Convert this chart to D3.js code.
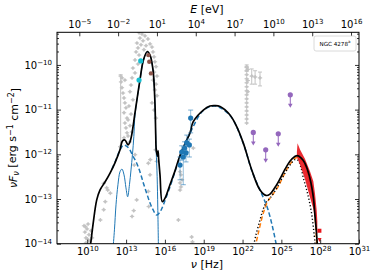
<!DOCTYPE html>
<html>
<head>
<meta charset="utf-8">
<script src="https://cdn.jsdelivr.net/npm/d3@7"></script>
<style>
  body { margin: 0; background: #fff; }
  svg { font-family: "DejaVu Sans", sans-serif; }
</style>
</head>
<body>
<div id="chart"></div>
<script>
// all values are log10(nu / Hz) and log10(nuFnu / erg s^-1 cm^-2)

// model: total emission (black)
let totalModel = [
  [10.20, -14.10], [10.26, -14.0], [10.44, -13.58], [10.73, -13.02], [10.98, -12.80],
  [11.37, -12.62], [11.76, -12.42], [12.14, -12.19], [12.53, -11.90], [12.72, -11.70],
  [12.91, -11.68], [13.15, -11.79], [13.30, -11.72], [13.43, -11.57], [13.69, -11.07],
  [14.07, -10.34], [14.34, -9.89], [14.64, -9.70], [14.85, -9.78], [15.08, -10.11],
  [15.23, -10.85], [15.29, -11.57], [15.33, -11.90], [15.43, -12.04], [15.47, -11.92],
  [15.52, -12.12], [15.62, -12.46], [15.80, -13.06], [16.01, -12.98], [16.39, -12.68],
  [16.78, -12.37], [17.17, -12.02], [17.68, -11.68], [17.94, -11.52], [18.19, -11.27],
  [18.97, -11.01], [19.48, -10.92], [19.87, -10.91], [20.26, -10.93], [21.03, -11.12],
  [21.55, -11.38], [22.06, -11.75], [22.71, -12.35], [23.35, -12.80], [23.81, -12.92],
  [24.12, -12.89], [24.64, -12.68], [25.41, -12.27], [25.82, -12.10], [26.23, -12.03],
  [26.52, -12.08], [26.82, -12.20], [27.10, -12.42], [27.34, -12.72], [27.48, -12.98],
  [27.60, -13.39], [27.71, -13.74], [27.78, -14.05], [27.80, -14.20]
];

// host galaxy (blue solid)
let hostGalaxy = [
  [11.99, -14.10], [12.10, -13.69], [12.22, -13.13], [12.37, -12.68], [12.53, -12.39],
  [12.68, -12.33], [12.84, -12.46], [12.99, -12.75], [13.12, -12.95], [13.26, -12.68],
  [13.38, -12.35], [13.49, -12.01], [13.60, -11.60], [13.69, -11.12], [14.07, -10.36],
  [14.34, -9.90], [14.64, -9.71], [14.85, -9.79], [15.08, -10.12], [15.23, -10.87],
  [15.29, -11.60], [15.33, -11.95], [15.40, -12.50], [15.45, -13.20], [15.50, -14.10]
];

// synchrotron (blue dashed)
let synchrotron = [
  [11.91, -12.33], [12.22, -12.12], [12.53, -11.90], [12.78, -11.80], [13.00, -11.81],
  [13.25, -11.88], [13.53, -12.04], [13.82, -12.20], [14.07, -12.39], [14.33, -12.64],
  [14.59, -12.87], [14.85, -13.09], [15.08, -13.24], [15.36, -13.36], [15.62, -13.29],
  [15.88, -13.13], [16.39, -12.73], [17.17, -12.06], [17.94, -11.53], [18.97, -11.02],
  [19.87, -10.92], [21.03, -11.13], [22.06, -11.76], [22.71, -12.36], [23.35, -12.80],
  [23.74, -13.06], [23.97, -13.24], [24.28, -13.58], [24.58, -13.98], [24.66, -14.10]
];

// inverse Compton (orange dashed)
let inverseCompton = [
  [22.96, -14.10], [23.19, -13.80], [23.60, -13.32], [23.93, -13.06], [24.25, -12.93],
  [24.76, -12.72], [25.13, -12.50], [25.67, -12.22], [26.21, -12.07], [26.68, -12.18],
  [27.06, -12.46], [27.37, -12.80], [27.60, -13.38], [27.75, -14.10]
];

// second component (black dotted)
let dottedModel = [
  [22.81, -14.10], [23.04, -13.80], [23.35, -13.47], [23.58, -13.24], [23.87, -13.06],
  [24.12, -12.98], [24.51, -12.82], [24.89, -12.62], [25.28, -12.42], [25.67, -12.24],
  [26.05, -12.12], [26.28, -12.13], [26.52, -12.30], [26.70, -12.53], [26.96, -12.80],
  [27.14, -13.02], [27.34, -13.33], [27.48, -13.65], [27.60, -13.98], [27.64, -14.10]
];

// TeV butterfly (red)
let bandNu = [26.20, 26.25, 26.45, 26.82, 27.21, 27.47, 27.60, 27.73, 27.78];
let bandLo = [-12.05, -12.10, -12.24, -12.55, -12.96, -13.22, -13.45, -13.72, -13.80];
let bandHi = [-11.95, -11.75, -11.90, -12.10, -12.38, -12.60, -12.88, -13.25, -13.50];
let tevPoints = [[27.94, -13.71]];
let tevLimits = [[27.95, -13.92]];

// archival data (grey)
let archival = [
  [9.75, -13.60], [9.82, -13.74], [9.90, -13.87], [9.98, -13.67], [10.06, -13.56],
  [10.13, -13.80], [10.21, -13.94], [10.29, -13.71], [9.90, -13.98], [10.37, -13.87],
  [9.85, -13.62], [10.02, -13.90],
  [11.01, -13.47], [11.27, -13.24], [11.39, -13.06], [11.27, -12.65], [11.58, -12.80],
  [11.78, -12.87], [11.50, -12.75], [12.55, -11.83], [13.63, -12.24], [13.59, -13.26],
  [13.46, -13.39], [13.82, -13.02], [13.69, -12.01], [14.75, -13.17], [14.87, -12.12],
  [15.37, -12.16], [15.27, -11.90], [14.72, -12.20], [14.85, -12.46], [14.72, -12.83],
  [14.00, -9.28], [14.23, -9.31], [14.46, -9.35], [14.07, -9.40], [14.69, -9.42],
  [14.31, -9.46], [13.84, -9.51], [14.15, -9.55], [14.54, -9.57], [13.92, -9.62],
  [14.85, -9.53], [15.00, -9.60], [14.38, -9.66], [13.77, -9.71], [15.08, -9.71],
  [14.00, -9.78], [15.16, -9.82], [13.69, -9.89], [15.23, -9.93], [13.92, -9.98],
  [13.53, -10.07], [15.31, -10.04], [15.16, -10.16], [13.69, -10.18], [15.39, -10.25],
  [13.46, -10.29], [15.08, -10.34], [15.31, -10.43], [13.38, -10.45], [15.23, -10.56],
  [13.30, -10.60], [15.39, -10.69], [13.53, -10.78], [15.00, -10.85], [13.22, -10.92],
  [15.16, -11.01], [13.38, -11.10], [15.31, -11.19], [13.15, -11.23], [13.30, -11.36],
  [13.46, -11.50], [13.15, -11.59], [13.30, -11.72],
  [12.61, -10.38], [12.68, -10.51], [12.76, -10.63], [12.84, -10.74], [12.91, -10.85],
  [12.99, -10.96], [12.84, -11.07], [13.07, -11.19], [12.91, -11.30], [12.99, -11.41],
  [13.07, -11.52], [12.84, -11.63], [12.68, -10.29], [12.91, -10.34],
  [17.04, -13.47], [17.17, -12.80], [17.17, -12.64], [17.24, -12.46], [18.19, -11.86],
  [18.07, -13.85], [18.13, -13.96], [17.32, -12.57], [17.24, -12.73], [17.17, -12.39],
  [22.32, -10.04], [22.32, -10.13], [22.32, -10.22], [22.32, -10.31], [22.32, -10.40],
  [22.32, -10.49], [22.32, -10.58], [22.32, -10.67], [22.32, -10.76], [22.32, -10.85],
  [22.32, -10.94], [22.32, -11.03], [22.32, -11.12], [22.32, -11.21], [22.32, -11.30],
  [22.40, -10.10], [22.40, -10.35], [22.40, -10.60]
];
// archival with error bars: [nu, flux, low, high]
let archivalErr = [
  [12.58, -10.25, -11.83, -10.22],
  [22.32, -10.06, -10.14, -10.00],
  [22.71, -10.25, -10.43, -10.09],
  [22.97, -10.27, -10.43, -10.13],
  [23.35, -10.29, -10.47, -10.16]
];

// optical / UV (cyan, brown)
let uvPoints = [[14.13, -9.91], [14.00, -10.34]];
let opticalPoints = [[14.72, -9.78], [14.79, -9.93], [14.92, -10.19]];

// X-ray (blue): [nu, flux, low, high]
let xrayPoints = [
  [17.99, -11.19, -11.52, -11.01], [17.69, -11.74, -11.95, -11.57],
  [17.89, -11.79, -12.06, -11.66], [17.63, -11.97, -12.17, -11.81],
  [17.42, -12.06, -12.68, -11.90], [17.30, -11.95, -12.13, -11.81],
  [17.17, -12.24, -12.57, -12.06], [17.52, -11.86, -12.04, -11.72]
];

// gamma-ray upper limits (purple)
let fermiLimits = [[22.83, -11.51], [23.79, -11.90], [24.76, -11.54], [25.69, -10.67]];

// tick values
let nuTicks = [10, 13, 16, 19, 22, 25, 28, 31];
let energyTicks = [-5, -2, 1, 4, 7, 10, 13, 16];
let fluxTicks = [-14, -13, -12, -11, -10];
const logPlanck = -14.3834; // log10(h / eV s)

// svg dimensions
let svgWidth = 374, svgHeight = 280;
let chartMargins = { top: 32.3, right: 15, bottom: 36.3, left: 57 };
let chartWidth = svgWidth - chartMargins.left - chartMargins.right;
let chartHeight = svgHeight - chartMargins.top - chartMargins.bottom;

let svg = d3.select("#chart").append("svg")
  .attr("width", svgWidth).attr("height", svgHeight);
svg.append("rect").attr("width", svgWidth).attr("height", svgHeight).attr("fill", "#fff");

let chartGroup = svg.append("g")
  .attr("transform", `translate(${chartMargins.left}, ${chartMargins.top})`);

let xScale = d3.scaleLinear().domain([7.66, 31]).range([0, chartWidth]);
let eScale = d3.scaleLinear().domain([7.66 + logPlanck, 31 + logPlanck]).range([0, chartWidth]);
let yScale = d3.scaleLinear().domain([-14, -9.27]).range([chartHeight, 0]);

chartGroup.append("clipPath").attr("id", "plotclip")
  .append("rect").attr("width", chartWidth).attr("height", chartHeight);
let plot = chartGroup.append("g").attr("clip-path", "url(#plotclip)");

// grey archival points
let greyCol = "#c3c3c3";
archivalErr.forEach((d) => {
  let x = xScale(d[0]);
  plot.append("line").attr("x1", x).attr("x2", x)
    .attr("y1", yScale(d[2])).attr("y2", yScale(d[3]))
    .attr("stroke", greyCol).attr("stroke-width", 1);
  [d[2], d[3]].forEach((v) => {
    plot.append("line").attr("x1", x - 2).attr("x2", x + 2)
      .attr("y1", yScale(v)).attr("y2", yScale(v))
      .attr("stroke", greyCol).attr("stroke-width", 1);
  });
});
let greyG = plot.selectAll(".grey").data(archival.concat(archivalErr)).enter()
  .append("g").attr("transform", (d) => `translate(${xScale(d[0])}, ${yScale(d[1])})`);
greyG.append("line").attr("x1", -2.2).attr("x2", 2.2)
  .attr("stroke", greyCol).attr("stroke-width", 1);
greyG.append("line").attr("y1", -2).attr("y2", 2)
  .attr("stroke", greyCol).attr("stroke-width", 1);
greyG.append("circle").attr("r", 1.4).attr("fill", greyCol);

// model curves
let lineGen = d3.line()
  .x((d) => xScale(d[0])).y((d) => yScale(d[1]))
  .curve(d3.curveCatmullRom.alpha(0.5));

plot.append("path").datum(hostGalaxy).attr("d", lineGen)
  .attr("fill", "none").attr("stroke", "#1f77b4").attr("stroke-width", 1);
plot.append("path").datum(synchrotron).attr("d", lineGen)
  .attr("fill", "none").attr("stroke", "#1f77b4").attr("stroke-width", 1.5)
  .attr("stroke-dasharray", "4.5,2.5");
plot.append("path").datum(inverseCompton).attr("d", lineGen)
  .attr("fill", "none").attr("stroke", "#ff7f0e").attr("stroke-width", 1.5)
  .attr("stroke-dasharray", "4.5,2.5");
plot.append("path").datum(dottedModel).attr("d", lineGen)
  .attr("fill", "none").attr("stroke", "#000").attr("stroke-width", 1.4)
  .attr("stroke-dasharray", "1.2,2.2");

// red butterfly
let areaGen = d3.area()
  .x((d, i) => xScale(bandNu[i]))
  .y0((d, i) => yScale(bandLo[i]))
  .y1((d, i) => yScale(bandHi[i]));
plot.append("path").datum(bandNu).attr("d", areaGen)
  .attr("fill", "#e8141b").attr("opacity", 0.9);

plot.append("path").datum(totalModel).attr("d", lineGen)
  .attr("fill", "none").attr("stroke", "#000").attr("stroke-width", 1.7);

// red TeV points
plot.selectAll(".tev").data(tevPoints).enter().append("rect")
  .attr("x", (d) => xScale(d[0]) - 2).attr("y", (d) => yScale(d[1]) - 2)
  .attr("width", 4).attr("height", 4).attr("fill", "#e8141b");
plot.selectAll(".tevul").data(tevLimits).enter().append("path")
  .attr("d", (d) => {
    let x = xScale(d[0]), y = yScale(d[1]);
    return `M${x - 2},${y - 2}L${x + 2},${y - 2}L${x},${y + 2}Z`;
  })
  .attr("fill", "#e8141b");

// optical / UV
plot.selectAll(".uv").data(uvPoints).enter().append("circle")
  .attr("cx", (d) => xScale(d[0])).attr("cy", (d) => yScale(d[1]))
  .attr("r", 2.6).attr("fill", "#17becf");
plot.selectAll(".opt").data(opticalPoints).enter().append("circle")
  .attr("cx", (d) => xScale(d[0])).attr("cy", (d) => yScale(d[1]))
  .attr("r", 2.2).attr("fill", "#8c564b");

// X-ray points
let xrayG = plot.selectAll(".xray").data(xrayPoints).enter().append("g");
xrayG.append("line")
  .attr("x1", (d) => xScale(d[0])).attr("x2", (d) => xScale(d[0]))
  .attr("y1", (d) => yScale(d[2])).attr("y2", (d) => yScale(d[3]))
  .attr("stroke", "#1f77b4").attr("stroke-opacity", 0.45).attr("stroke-width", 1);
xrayG.append("line")
  .attr("x1", (d) => xScale(d[0]) - 2.5).attr("x2", (d) => xScale(d[0]) + 2.5)
  .attr("y1", (d) => yScale(d[3])).attr("y2", (d) => yScale(d[3]))
  .attr("stroke", "#1f77b4").attr("stroke-opacity", 0.6).attr("stroke-width", 1);
xrayG.append("line")
  .attr("x1", (d) => xScale(d[0]) - 2.5).attr("x2", (d) => xScale(d[0]) + 2.5)
  .attr("y1", (d) => yScale(d[2])).attr("y2", (d) => yScale(d[2]))
  .attr("stroke", "#1f77b4").attr("stroke-opacity", 0.6).attr("stroke-width", 1);
xrayG.append("circle")
  .attr("cx", (d) => xScale(d[0])).attr("cy", (d) => yScale(d[1]))
  .attr("r", 2.6).attr("fill", "#1f77b4");

// Fermi upper limits
let ulG = plot.selectAll(".ul").data(fermiLimits).enter().append("g")
  .attr("transform", (d) => `translate(${xScale(d[0])}, ${yScale(d[1])})`);
ulG.append("line").attr("y1", 0).attr("y2", 10)
  .attr("stroke", "#9467bd").attr("stroke-width", 1);
ulG.append("path").attr("d", "M-2.3,9L2.3,9L0,13Z").attr("fill", "#9467bd");
ulG.append("circle").attr("r", 2.6).attr("fill", "#9467bd");

// axes
function powerLabels(g) {
  g.selectAll(".tick text").each(function (d) {
    let t = d3.select(this);
    t.text(null);
    t.append("tspan").text("10");
    t.append("tspan").attr("dy", "-0.55em").attr("font-size", "7px")
      .text(String(d).replace("-", "\u2212"));
  });
}
function styleAxis(g) {
  g.select(".domain").remove();
  g.selectAll(".tick line").attr("stroke", "#000").attr("stroke-width", 0.8);
  g.selectAll(".tick text").attr("fill", "#000").attr("font-size", "10px")
    .attr("font-family", "DejaVu Sans, sans-serif");
}

let minorTicks = [];
for (let e = -14; e < -9; e++) {
  for (let k = 2; k < 10; k++) {
    let v = e + Math.log10(k);
    if (v < -9.27) minorTicks.push(v);
  }
}

let bottomAxis = chartGroup.append("g").attr("transform", `translate(0, ${chartHeight})`)
  .call(d3.axisBottom(xScale).tickValues(nuTicks).tickSize(-4).tickPadding(4));
styleAxis(bottomAxis); powerLabels(bottomAxis);

let topAxis = chartGroup.append("g")
  .call(d3.axisTop(eScale).tickValues(energyTicks).tickSize(-4).tickPadding(4.5));
styleAxis(topAxis); powerLabels(topAxis);

let leftAxis = chartGroup.append("g")
  .call(d3.axisLeft(yScale).tickValues(fluxTicks).tickSize(-4).tickPadding(5));
styleAxis(leftAxis); powerLabels(leftAxis);
let leftMinor = chartGroup.append("g")
  .call(d3.axisLeft(yScale).tickValues(minorTicks).tickSize(-2).tickFormat(""));
styleAxis(leftMinor);

let rightAxis = chartGroup.append("g").attr("transform", `translate(${chartWidth}, 0)`)
  .call(d3.axisRight(yScale).tickValues(fluxTicks).tickSize(-4).tickFormat(""));
styleAxis(rightAxis);
let rightMinor = chartGroup.append("g").attr("transform", `translate(${chartWidth}, 0)`)
  .call(d3.axisRight(yScale).tickValues(minorTicks).tickSize(-2).tickFormat(""));
styleAxis(rightMinor);

// frame
chartGroup.append("rect").attr("width", chartWidth).attr("height", chartHeight)
  .attr("fill", "none").attr("stroke", "#000").attr("stroke-width", 1);

// axis titles
let eLabel = svg.append("text").attr("x", 207).attr("y", 13)
  .attr("text-anchor", "middle").attr("font-size", "11px");
eLabel.append("tspan").attr("font-style", "italic").text("E");
eLabel.append("tspan").text(" [eV]");

let nuLabel = svg.append("text").attr("x", 207).attr("y", 268)
  .attr("text-anchor", "middle").attr("font-size", "11px");
nuLabel.append("tspan").attr("font-style", "italic").text("\u03bd");
nuLabel.append("tspan").text(" [Hz]");

let yLabel = svg.append("text")
  .attr("transform", `translate(17, ${chartMargins.top + chartHeight / 2}) rotate(-90)`)
  .attr("text-anchor", "middle").attr("font-size", "11px");
yLabel.append("tspan").attr("font-style", "italic").text("\u03bdF");
yLabel.append("tspan").attr("font-style", "italic").attr("font-size", "8px").attr("dy", "0.25em").text("\u03bd");
yLabel.append("tspan").attr("dy", "-0.25em").text(" [erg s");
yLabel.append("tspan").attr("font-size", "8px").attr("dy", "-0.45em").text("\u22121");
yLabel.append("tspan").attr("dy", "0.45em").text(" cm");
yLabel.append("tspan").attr("font-size", "8px").attr("dy", "-0.45em").text("\u22122");
yLabel.append("tspan").attr("dy", "0.45em").text("]");

// legend box
let legend = svg.append("g").attr("transform", "translate(314, 36)");
legend.append("rect").attr("width", 42).attr("height", 15).attr("rx", 2)
  .attr("fill", "#fff").attr("stroke", "#d0d0d0").attr("stroke-width", 0.8);
let legText = legend.append("text").attr("x", 21).attr("y", 9.8)
  .attr("text-anchor", "middle").attr("font-size", "5.6px");
legText.append("tspan").text("NGC 4278");
legText.append("tspan").attr("font-size", "4px").attr("dy", "-0.6em").text("a");
</script>
</body>
</html>
